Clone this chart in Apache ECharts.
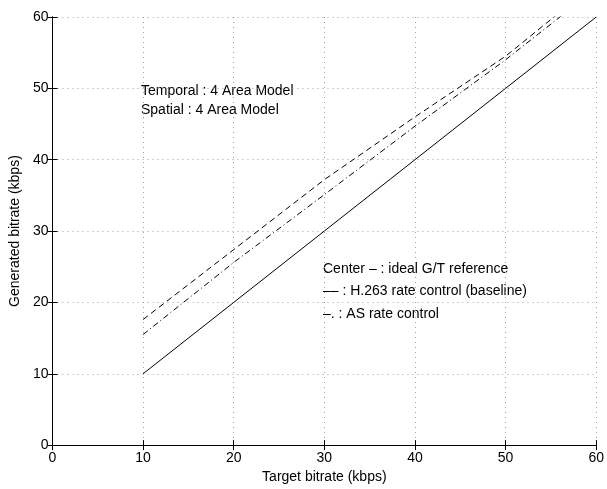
<!DOCTYPE html>
<html>
<head>
<meta charset="utf-8">
<script src="https://cdn.jsdelivr.net/npm/echarts@6/dist/echarts.min.js"></script>
<style>html,body{margin:0;padding:0;background:#fff;}#c{width:607px;height:489px;}</style>
</head>
<body>
<div id="c"></div>
<script>
// Data
var targetRate = [10, 20, 30, 40, 50, 60];
var idealRef = [10, 20, 30, 40, 50, 60];
var h263Rate = [17.6, 27.4, 37.2, 46.0, 54.5, 64.8];
var asRate = [15.5, 25.6, 35.1, 44.7, 54.0, 64.0];
var xTicks = [0, 10, 20, 30, 40, 50, 60];
var yTicks = [0, 10, 20, 30, 40, 50, 60];
var notes1 = ['Temporal : 4 Area Model', 'Spatial : 4 Area Model'];
var notes2 = ['Center \u2013 : ideal G/T reference', '\u2013\u2013 : H.263 rate control (baseline)', '\u2013. : AS rate control'];

function pairs(xs, ys) { return xs.map(function (x, i) { return [x, ys[i]]; }); }

var FONT = 'Liberation Sans, Arial, Helvetica, sans-serif';
var grid = { left: 46, right: 8, top: 17, bottom: 38 };
var chart = echarts.init(document.getElementById('c'), null, { renderer: 'canvas' });

var gridLine = { show: true, lineStyle: { color: '#a0a0a0', width: 1, type: [1, 4] } };
var axisLine = { show: true, lineStyle: { color: '#000', width: 1 } };
var tickIn = { show: true, inside: true, length: 5, lineStyle: { color: '#000' } };

chart.setOption({
  animation: false,
  backgroundColor: '#fff',
  textStyle: { fontFamily: FONT },
  grid: grid,
  xAxis: [{
    type: 'value', min: 0, max: 60, interval: 10, position: 'bottom',
    name: 'Target bitrate (kbps)', nameLocation: 'middle', nameGap: 22,
    nameTextStyle: { fontSize: 14, color: '#000', fontFamily: FONT },
    axisLine: axisLine, axisTick: tickIn, splitLine: gridLine,
    axisLabel: { fontSize: 14, color: '#000', margin: 6, fontFamily: FONT,
      formatter: function (v) { return xTicks.indexOf(v) >= 0 ? String(v) : ''; } }
  }, {
    type: 'value', min: 0, max: 60, interval: 10, position: 'top',
    axisLine: axisLine, axisTick: tickIn, splitLine: { show: false }, axisLabel: { show: false }
  }],
  yAxis: [{
    type: 'value', min: 0, max: 60, interval: 10, position: 'left',
    name: 'Generated bitrate (kbps)', nameLocation: 'middle', nameGap: 20,
    nameTextStyle: { fontSize: 14, color: '#000', fontFamily: FONT },
    axisLine: axisLine, axisTick: tickIn, splitLine: gridLine,
    axisLabel: { fontSize: 14, color: '#000', margin: 4, fontFamily: FONT,
      formatter: function (v) { return yTicks.indexOf(v) >= 0 ? String(v) : ''; } }
  }, {
    type: 'value', min: 0, max: 60, interval: 10, position: 'right',
    axisLine: axisLine, axisTick: tickIn, splitLine: { show: false }, axisLabel: { show: false }
  }],
  series: [{
    type: 'line', data: pairs(targetRate, idealRef), symbol: 'none', clip: true,
    lineStyle: { color: '#000', width: 1, type: 'solid' }
  }, {
    type: 'line', data: pairs(targetRate, h263Rate), symbol: 'none', clip: true,
    lineStyle: { color: '#000', width: 1, type: [6, 4] }
  }, {
    type: 'line', data: pairs(targetRate, asRate), symbol: 'none', clip: true,
    lineStyle: { color: '#000', width: 1, type: [6, 3, 1, 3] }
  }],
  graphic: [
    { type: 'text', left: 141, top: 84, style: { text: notes1[0], font: '14px ' + FONT, fill: '#000' } },
    { type: 'text', left: 141, top: 103, style: { text: notes1[1], font: '14px ' + FONT, fill: '#000' } },
    { type: 'text', left: 323, top: 262, style: { text: notes2[0], font: '14px ' + FONT, fill: '#000' } },
    { type: 'text', left: 323, top: 284, style: { text: notes2[1], font: '14px ' + FONT, fill: '#000' } },
    { type: 'text', left: 323, top: 307, style: { text: notes2[2], font: '14px ' + FONT, fill: '#000' } }
  ]
});
</script>
</body>
</html>
